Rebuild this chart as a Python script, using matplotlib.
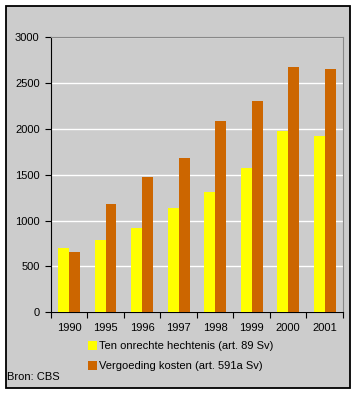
import matplotlib.pyplot as plt
from matplotlib.patches import Rectangle, Patch

years = ["1990", "1995", "1996", "1997", "1998", "1999", "2000", "2001"]
hechtenis = [700, 785, 925, 1135, 1310, 1575, 1975, 1925]
kosten = [655, 1180, 1475, 1685, 2085, 2305, 2680, 2655]

label_h = "Ten onrechte hechtenis (art. 89 Sv)"
label_k = "Vergoeding kosten (art. 591a Sv)"

yellow = "#ffff00"
orange = "#cc6600"
grey = "#cccccc"

plt.rcParams['font.family'] = ['Liberation Sans', 'DejaVu Sans']
plt.rcParams['font.size'] = 8

W, H = 356, 394
fig = plt.figure(figsize=(W / 100, H / 100), dpi=100, facecolor="white")

# grey panel with black frame, behind the axes
fig.patches.append(Rectangle((6 / W, 1 - 388 / H), 344 / W, 382 / H,
                             transform=fig.transFigure, facecolor=grey,
                             edgecolor="black", linewidth=1.3, zorder=-5))

ax = fig.add_axes([50.7 / W, 81.7 / H, 292.3 / W, 275 / H])
ax.set_zorder(2)
ax.set_facecolor(grey)

x = list(range(len(years)))
bw = 0.3
ax.bar([i - bw / 2 for i in x], hechtenis, width=bw, color=yellow, zorder=3)
ax.bar([i + bw / 2 for i in x], kosten, width=bw, color=orange, zorder=3)

ax.set_ylim(0, 3000)
ax.set_xlim(-0.5, len(years) - 0.5)
ax.set_yticks(range(0, 3001, 500))
ax.yaxis.grid(True, color="white", linewidth=1, zorder=1)
ax.set_axisbelow(True)

ax.set_xticks([i - 0.5 for i in range(len(years) + 1)])
ax.set_xticklabels([])
ax.set_xticks(x, minor=True)
ax.set_xticklabels(years, minor=True)
ax.tick_params(axis="x", which="major", length=4, width=0.8, color="black")
ax.tick_params(axis="x", which="minor", length=0, pad=8)
ax.tick_params(axis="y", length=4, width=0.8, pad=4)

for s in ["top", "right"]:
    ax.spines[s].set_color("#888888")
for s in ["left", "bottom"]:
    ax.spines[s].set_color("black")

handles = [Patch(facecolor=yellow, label=label_h),
           Patch(facecolor=orange, label=label_k)]
fig.legend(handles=handles, loc="upper left", bbox_to_anchor=(88 / W, 1 - 341 / H),
           frameon=False, handlelength=0.85, handleheight=0.85, handletextpad=0.15,
           labelspacing=0.85, borderaxespad=0, borderpad=0)

fig.text(7 / W, 1 - 377 / H, "Bron: CBS", va="center", ha="left")

fig.savefig("out.png", dpi=100, facecolor="white")
